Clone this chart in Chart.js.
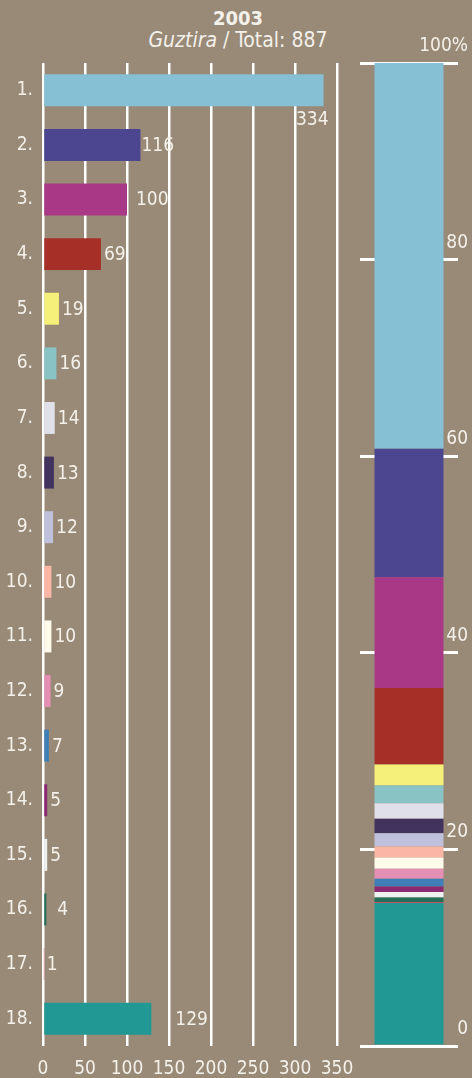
<!DOCTYPE html>
<html>
<head>
<meta charset="utf-8">
<script src="https://cdn.jsdelivr.net/npm/chart.js@4.4.1/dist/chart.umd.min.js"></script>
<style>
  html, body { margin: 0; padding: 0; background: #988a77; }
  body { width: 472px; height: 1078px; position: relative; overflow: hidden;
         font-family: "DejaVu Sans Condensed", "DejaVu Sans", sans-serif; color: #f4f0ea; }
  #head { position: absolute; left: 0; top: 8px; width: 476px; text-align: center; line-height: 1; }
  #head .year { font-weight: bold; font-size: 20px; }
  #head .sub { font-size: 21px; margin-top: 2px; }
  #bars { position: absolute; left: 0; top: 0; }
  #stack { position: absolute; left: 350px; top: 0; }
</style>
</head>
<body>
<div id="head">
  <div class="year">2003</div>
  <div class="sub"><i>Guztira</i> / Total: 887</div>
</div>
<canvas id="bars" width="360" height="1078"></canvas>
<canvas id="stack" width="122" height="1078"></canvas>
<script>
// data
const ranks = ["1.", "2.", "3.", "4.", "5.", "6.", "7.", "8.", "9.", "10.",
  "11.", "12.", "13.", "14.", "15.", "16.", "17.", "18."];
const votes = [334, 116, 100, 69, 19, 16, 14, 13, 12, 10, 10, 9, 7, 5, 5, 4, 1, 129];
const total = 887;
const xTicks = [0, 50, 100, 150, 200, 250, 300, 350];
const pctTicks = [0, 20, 40, 60, 80, 100];
const colors = ["#86c0d5", "#4c4690", "#a93886", "#a63028", "#f5f07a", "#89c3c3",
  "#e0e0ea", "#41325e", "#bfc0dc", "#fbb6a6", "#fffbea", "#e68fb5", "#3f7fb8",
  "#8b2a73", "#eef3f2", "#236f5a", "#c44f66", "#229895"];

const txt = "#f4f0ea";
const font = { family: "DejaVu Sans Condensed", size: 19 };

// value labels next to the bars
const valueLabels = {
  id: "valueLabels",
  afterDatasetsDraw(chart) {
    const { ctx } = chart;
    // small per-label nudges, as in the printed original
    const nudge = { 1: -2, 2: 6, 15: 8, 17: 21 };
    ctx.save();
    ctx.font = font.size + "px '" + font.family + "'";
    ctx.fillStyle = txt;
    ctx.textBaseline = "middle";
    chart.getDatasetMeta(0).data.forEach((bar, i) => {
      const v = chart.data.datasets[0].data[i];
      if (i === 0) {
        // longest bar: label sits below its end
        ctx.textAlign = "right";
        ctx.fillText(v, bar.x + 5, bar.y + 30);
      } else {
        ctx.textAlign = "left";
        ctx.fillText(v, bar.x + 3 + (nudge[i] || 0), bar.y + 1);
      }
    });
    ctx.restore();
  },
};

new Chart(document.getElementById("bars"), {
  type: "bar",
  data: {
    labels: ranks,
    datasets: [{
      data: votes,
      backgroundColor: colors,
      borderWidth: 0,
      categoryPercentage: 1,
      barPercentage: 0.585,
    }],
  },
  options: {
    indexAxis: "y",
    responsive: false,
    animation: false,
    layout: { padding: { top: 63, right: 23, left: 0, bottom: 0 } },
    plugins: { legend: { display: false }, tooltip: { enabled: false } },
    scales: {
      x: {
        min: 0,
        max: 350,
        afterBuildTicks(s) { s.ticks = xTicks.map(v => ({ value: v })); },
        afterFit(s) {
          s.height = 32;
          s.paddingLeft = 0;
          s.paddingRight = 0;
        },
        ticks: { color: txt, font, padding: 12, maxRotation: 0 },
        grid: { color: "#ffffff", lineWidth: 2.5, drawTicks: false },
        border: { display: false },
      },
      y: {
        afterFit(s) { s.width = 43; },
        ticks: { color: txt, font, padding: 2 },
        grid: { display: false },
        border: { display: false },
      },
    },
  },
  plugins: [valueLabels],
});

// stacked percentage bar, bottom = last rank
// votes not listed (total - sum) are shown on top, in the colour of rank 1
const sum = votes.reduce((a, b) => a + b, 0);
const stackSets = votes.map((v, i) => ({
  data: [(i === 0 ? v + total - sum : v) / total * 100],
  backgroundColor: colors[i],
  borderWidth: 0,
  categoryPercentage: 1,
  barPercentage: 0.704,
})).reverse();

const pctLabels = {
  id: "pctLabels",
  afterDraw(chart) {
    const { ctx } = chart;
    const y = chart.scales.y;
    ctx.save();
    ctx.font = font.size + "px '" + font.family + "'";
    ctx.fillStyle = txt;
    ctx.textAlign = "right";
    ctx.textBaseline = "middle";
    y.ticks.forEach(t => {
      const label = t.value === 100 ? "100%" : String(t.value);
      ctx.fillText(label, 118, y.getPixelForValue(t.value) - 17);
    });
    ctx.restore();
  },
};

new Chart(document.getElementById("stack"), {
  type: "bar",
  data: { labels: [""], datasets: stackSets },
  options: {
    responsive: false,
    animation: false,
    layout: { padding: { top: 63, right: 14, left: 10, bottom: 32 } },
    plugins: { legend: { display: false }, tooltip: { enabled: false } },
    scales: {
      x: { display: false, stacked: true },
      y: {
        stacked: true,
        position: "right",
        min: 0,
        max: 100,
        afterBuildTicks(s) { s.ticks = pctTicks.map(v => ({ value: v })); },
        afterFit(s) { s.width = 0; },
        ticks: { display: false },
        grid: { color: "#ffffff", lineWidth: 3, drawTicks: false },
        border: { display: false },
      },
    },
  },
  plugins: [pctLabels],
});
</script>
</body>
</html>
